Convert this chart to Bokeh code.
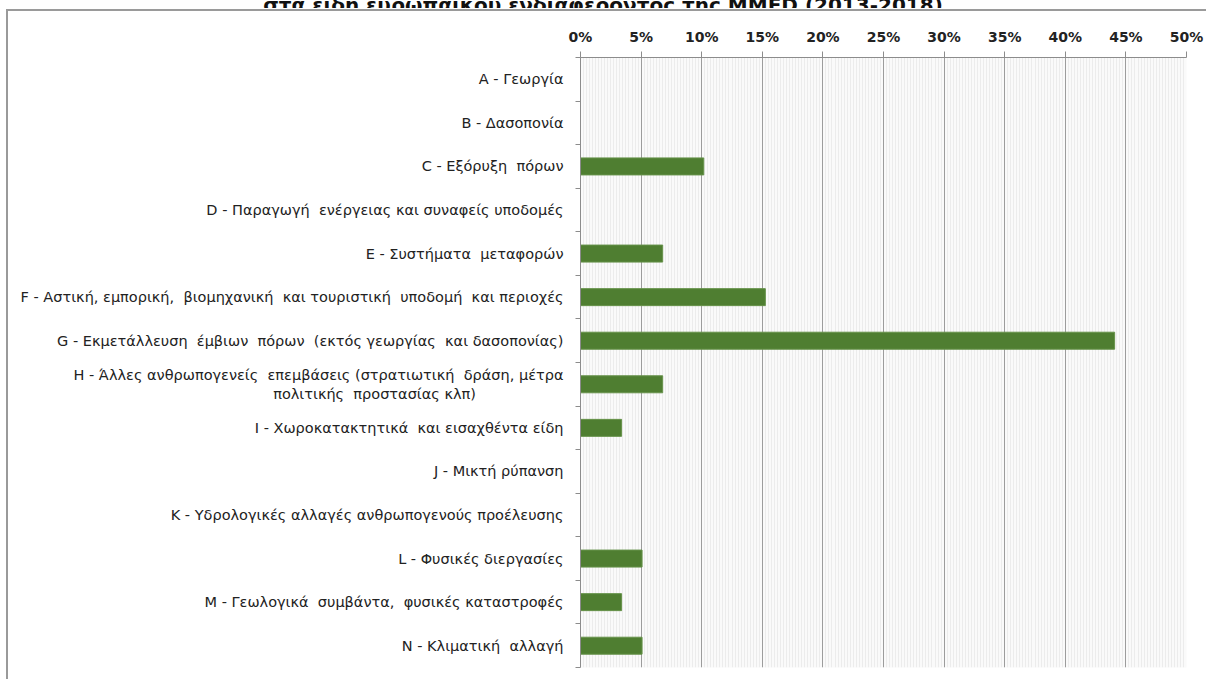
from bokeh.plotting import figure
from bokeh.layouts import column
from bokeh.models import (Range1d, LinearAxis, FixedTicker, SingleIntervalTicker,
                          PrintfTickFormatter, ColumnDataSource, Div)
from bokeh.embed import file_html
from bokeh.resources import INLINE

title_text = "στα είδη ευρωπαϊκού ενδιαφέροντος της MMED (2013-2018)"

S = "\u00a0 "  # wide gap as in the original labels
categories = [
    "A - Γεωργία",
    "B - Δασοπονία",
    "C - Εξόρυξη" + S + "πόρων",
    "D - Παραγωγή" + S + "ενέργειας και συναφείς υποδομές",
    "E - Συστήματα" + S + "μεταφορών",
    "F - Αστική, εμπορική," + S + "βιομηχανική" + S + "και τουριστική" + S + "υποδομή" + S + "και περιοχές",
    "G - Εκμετάλλευση" + S + "έμβιων" + S + "πόρων" + S + "(εκτός γεωργίας" + S + "και δασοπονίας)",
    "H - Άλλες ανθρωπογενείς" + S + "επεμβάσεις (στρατιωτική" + S + "δράση, μέτρα\nπολιτικής" + S + "προστασίας κλπ)" + "\u00a0" * 19,
    "I - Χωροκατακτητικά" + S + "και εισαχθέντα είδη",
    "J - Μικτή ρύπανση",
    "K - Υδρολογικές αλλαγές ανθρωπογενούς προέλευσης",
    "L - Φυσικές διεργασίες",
    "M - Γεωλογικά" + S + "συμβάντα," + S + "φυσικές καταστροφές",
    "N - Κλιματική" + S + "αλλαγή",
]
values = [0, 0, 10.17, 0, 6.78, 15.25, 44.07, 6.78, 3.39, 0, 0, 5.08, 3.39, 5.08]

x_max = 50
x_step = 5

n = len(categories)
centers = [i + 0.5 for i in range(n)]
src = ColumnDataSource(dict(pos=centers, val=values))

# title strip: only the lower part of the (cut-off) title line is visible, as in the original
title_div = Div(
    text=('<div style="font-family:\'DejaVu Sans\'; font-weight:bold; font-size:20px; '
          'line-height:20px; margin-top:-12px; text-align:center; width:1206px; '
          'white-space:nowrap; color:#111111;">' + title_text + '</div>'),
    width=1206, height=8, margin=0, styles={"overflow": "hidden"})

p = figure(width=1206, height=671, output_backend="svg", toolbar_location=None,
           y_range=Range1d(n, 0), x_range=Range1d(0, x_max),
           x_axis_location="above", y_axis_location=None,
           min_border_left=580, min_border_right=20, min_border_top=49, min_border_bottom=12)

# outer chart border (left and top edges), drawn behind a transparent border area
p.styles = {
    "background-image": "linear-gradient(#9a9a9a,#9a9a9a), linear-gradient(#9a9a9a,#9a9a9a)",
    "background-size": "2px 100%, 100% 2px",
    "background-position": "6px 1px, 6px 1px",
    "background-repeat": "no-repeat",
}

p.background_fill_color = "#fafafa"
p.border_fill_color = None
p.outline_line_color = None

p.hbar(y="pos", right="val", left=0, height=0.39, source=src,
       fill_color="#4f7e31", line_color="#66924a", line_width=1)

# top x axis
xa = p.xaxis[0]
xa.ticker = SingleIntervalTicker(interval=x_step, num_minor_ticks=20)
xa.formatter = PrintfTickFormatter(format="%d%%")
xa.major_label_text_font = "DejaVu Sans"
xa.major_label_text_font_style = "bold"
xa.major_label_text_font_size = "14px"
xa.major_label_text_color = "#222222"
xa.major_label_standoff = 7
xa.axis_line_color = "#8c8c8c"
xa.major_tick_line_color = "#8c8c8c"
xa.major_tick_out = 6
xa.major_tick_in = 0
xa.minor_tick_line_color = None

p.xgrid.grid_line_color = "#9c9c9c"
p.xgrid.minor_grid_line_color = "#ececec"

# boundary ticks on the left (inner axis)
bounds = list(range(n + 1))
ba = LinearAxis(ticker=FixedTicker(ticks=bounds),
                major_label_overrides={b: "" for b in bounds})
ba.major_label_text_color = None
ba.major_label_standoff = 0
ba.axis_line_color = "#8c8c8c"
ba.major_tick_line_color = "#8c8c8c"
ba.major_tick_out = 5
ba.major_tick_in = 0
ba.minor_tick_line_color = None
p.add_layout(ba, "left")

# category labels (outer axis)
ca = LinearAxis(ticker=FixedTicker(ticks=centers),
                major_label_overrides={c: lab for c, lab in zip(centers, categories)})
ca.major_tick_line_color = None
ca.minor_tick_line_color = None
ca.axis_line_color = None
ca.major_label_text_font = "DejaVu Sans"
ca.major_label_text_font_size = "14.5px"
ca.major_label_text_color = "#222222"
ca.major_label_standoff = 6
p.add_layout(ca, "left")

p.ygrid.grid_line_color = None

layout = column(title_div, p, spacing=0)
open("out.html", "w").write(file_html(layout, INLINE))
